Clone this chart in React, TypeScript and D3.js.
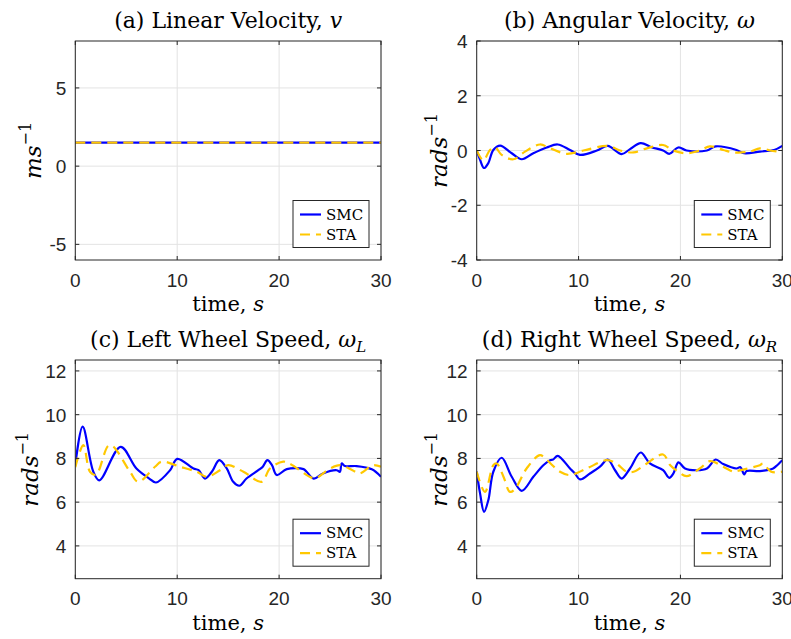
import React from "react";
import * as d3 from "d3";

// ---- Data ----
const tA = [0, 30];
const smcA = [1.5, 1.5];
const staA = [1.5, 1.5];

const tSmcB = [0, 0.33, 0.72, 1.14, 1.63, 2.3, 3.44, 4.42, 5.56, 6.87, 7.95, 9.16, 10.14, 11.8, 12.86, 14.23, 15.05, 16.1, 17.15, 18.3, 18.9, 19.8, 20.6, 22.6, 23.46, 25.5, 26.24, 27.8, 29.2, 30];
const smcB = [0, -0.34, -0.64, -0.46, 0.02, 0.18, -0.1, -0.32, -0.1, 0.11, 0.22, 0.02, -0.16, 0, 0.17, -0.13, 0.05, 0.27, 0.12, 0, -0.12, 0.11, 0, 0, 0.15, 0.02, -0.1, -0.04, 0.02, 0.17];
const tStaB = [0, 0.65, 1.3, 1.8, 2.45, 3.6, 4.74, 6.21, 7.2, 8.83, 10.47, 12.9, 14.07, 15.4, 16.7, 18.3, 19.3, 20.6, 21.9, 22.9, 24.2, 25.2, 26.8, 27.8, 28.8, 30];
const staB = [0, -0.36, 0.02, 0.12, -0.16, -0.32, -0.04, 0.22, 0.08, -0.12, 0, 0.17, 0, -0.07, 0.08, 0.2, 0, -0.1, 0, 0.15, 0.02, -0.07, -0.04, 0.08, 0, -0.06];

const tSmcC = [0, 0.72, 1.77, 2.36, 4.45, 6.0, 7.26, 7.92, 9.3, 10.0, 11.6, 12.1, 12.73, 13.4, 14.13, 14.86, 15.5, 16.1, 16.8, 17.96, 18.4, 18.85, 19.3, 19.77, 20.75, 22.4, 22.7, 23.4, 24.3, 25.65, 25.97, 26.14, 26.47, 27.6, 29.1, 30];
const smcC = [7.69, 9.45, 7.39, 7.0, 8.53, 7.54, 7.08, 6.9, 7.46, 7.98, 7.54, 7.46, 7.08, 7.39, 7.92, 7.54, 6.93, 6.75, 7.08, 7.46, 7.62, 7.92, 7.69, 7.24, 7.51, 7.51, 7.39, 7.08, 7.31, 7.46, 7.39, 7.77, 7.65, 7.65, 7.5, 7.16];
const tStaC = [0, 0.79, 1.44, 2.03, 3.24, 3.7, 5.37, 6.18, 7.82, 8.48, 10.27, 11.9, 12.9, 14.2, 15.0, 16.5, 18.3, 19.1, 20.4, 21.0, 23.0, 23.5, 25.0, 25.98, 27.2, 27.9, 29.2, 30];
const staC = [7.6, 8.61, 7.39, 7.25, 8.58, 8.55, 7.39, 6.93, 7.62, 7.85, 7.62, 7.39, 7.16, 7.46, 7.69, 7.39, 6.93, 7.54, 7.85, 7.77, 7.16, 7.08, 7.54, 7.69, 7.46, 7.31, 7.69, 7.62];

const tSmcD = [0, 0.33, 0.72, 1.14, 1.63, 2.45, 3.44, 4.42, 5.56, 6.54, 7.2, 7.5, 7.95, 9.16, 9.65, 10.14, 11.12, 12.1, 12.86, 13.58, 14.23, 15.05, 16.1, 17.0, 18.3, 18.9, 19.3, 19.8, 20.45, 21.6, 22.6, 23.46, 24.2, 25.5, 25.9, 26.24, 26.5, 27.8, 29.1, 29.4, 30];
const smcD = [7.39, 6.4, 5.56, 6.09, 7.39, 8.03, 7.16, 6.52, 7.16, 7.69, 7.92, 7.95, 8.12, 7.54, 7.31, 7.04, 7.31, 7.62, 7.95, 7.46, 7.08, 7.54, 8.27, 7.77, 7.46, 7.11, 7.3, 7.82, 7.54, 7.46, 7.54, 7.95, 7.74, 7.54, 7.6, 7.27, 7.42, 7.42, 7.54, 7.65, 7.92];
const tStaD = [0, 0.81, 1.63, 1.96, 2.6, 3.27, 3.76, 4.9, 6.21, 6.9, 8.18, 9.16, 10.8, 12.76, 13.7, 14.72, 15.4, 16.7, 18.3, 19.0, 19.8, 20.6, 21.9, 22.9, 24.2, 25.2, 25.5, 27.8, 28.1, 28.9, 30];
const staD = [7.39, 6.47, 7.69, 7.77, 7.2, 6.47, 6.6, 7.54, 8.15, 7.92, 7.39, 7.24, 7.54, 7.92, 7.77, 7.39, 7.39, 7.77, 8.18, 7.69, 7.39, 7.19, 7.54, 7.88, 7.62, 7.39, 7.42, 7.69, 7.77, 7.39, 7.39];

const xTicks = [0, 10, 20, 30];
const yTicksA = [-5, 0, 5];
const yTicksB = [-4, -2, 0, 2, 4];
const yTicksCD = [4, 6, 8, 10, 12];
const legendLabels = ["SMC", "STA"];

const BLUE = "#0000ff";
const YELLOW = "#ffc800";
const AXIS = "#262626";
const GRID = "#e3e3e3";
const SERIF = "'DejaVu Serif', serif";
const SANS = "'Liberation Sans', Arial, sans-serif";

type PanelProps = {
  id: string;
  left: number; right: number; top: number; bottom: number;
  yDomain: [number, number];
  yTicks: number[];
  tSmc: number[]; smc: number[];
  tSta: number[]; sta: number[];
  title: React.ReactNode;
  ylabel: string;
  ylabelX: number;
};

function Panel(p: PanelProps) {
  const x = d3.scaleLinear().domain([0, 30]).range([p.left, p.right]);
  const y = d3.scaleLinear().domain(p.yDomain).range([p.bottom, p.top]);
  const line = d3.line<[number, number]>()
    .x(d => x(d[0])).y(d => y(d[1]))
    .curve(d3.curveCatmullRom.alpha(0.5));
  const smcPts = p.tSmc.map((t, i) => [t, p.smc[i]] as [number, number]);
  const staPts = p.tSta.map((t, i) => [t, p.sta[i]] as [number, number]);
  const cx = (p.left + p.right) / 2;
  const cy = (p.top + p.bottom) / 2;
  const tl = 4;
  const lgR = p.right - 12;
  const lgL = lgR - 76;
  const lgB = p.bottom - 12.5;
  const lgT = lgB - 47;
  return (
    <g>
      <defs>
        <clipPath id={"clip-" + p.id}>
          <rect x={p.left} y={p.top} width={p.right - p.left} height={p.bottom - p.top} />
        </clipPath>
      </defs>
      <rect x={p.left} y={p.top} width={p.right - p.left} height={p.bottom - p.top} fill="#fff" />
      {xTicks.map(t => (
        <line key={"gx" + t} x1={x(t)} x2={x(t)} y1={p.top} y2={p.bottom} stroke={GRID} strokeWidth={1} />
      ))}
      {p.yTicks.map(t => (
        <line key={"gy" + t} x1={p.left} x2={p.right} y1={y(t)} y2={y(t)} stroke={GRID} strokeWidth={1} />
      ))}
      <g clipPath={`url(#clip-${p.id})`}>
        <path d={line(smcPts) || ""} fill="none" stroke={BLUE} strokeWidth={2.2} strokeLinejoin="round" />
        <path d={line(staPts) || ""} fill="none" stroke={YELLOW} strokeWidth={2.2} strokeDasharray="10,6" />
      </g>
      {/* ticks inside */}
      {xTicks.map(t => (
        <g key={"tx" + t}>
          <line x1={x(t)} x2={x(t)} y1={p.bottom} y2={p.bottom - tl} stroke={AXIS} />
          <line x1={x(t)} x2={x(t)} y1={p.top} y2={p.top + tl} stroke={AXIS} />
          <text x={x(t)} y={p.bottom + 26.5} textAnchor="middle" fontFamily={SANS} fontSize={19} fill={AXIS}>{t}</text>
        </g>
      ))}
      {p.yTicks.map(t => (
        <g key={"ty" + t}>
          <line x1={p.left} x2={p.left + tl} y1={y(t)} y2={y(t)} stroke={AXIS} />
          <line x1={p.right} x2={p.right - tl} y1={y(t)} y2={y(t)} stroke={AXIS} />
          <text x={p.left - 9} y={y(t) + 7} textAnchor="end" fontFamily={SANS} fontSize={19} fill={AXIS}>{t}</text>
        </g>
      ))}
      <rect x={p.left} y={p.top} width={p.right - p.left} height={p.bottom - p.top} fill="none" stroke={AXIS} strokeWidth={1} />
      {/* title */}
      <text x={cx} y={p.top - 13} textAnchor="middle" fontFamily={SERIF} fontSize={22} fill="#000">{p.title}</text>
      {/* x label */}
      <text x={cx} y={p.bottom + 51} textAnchor="middle" fontFamily={SERIF} fontSize={21} fill="#000">
        time, <tspan fontStyle="italic">s</tspan>
      </text>
      {/* y label */}
      <text transform={`translate(${p.ylabelX},${cy}) rotate(-90)`} textAnchor="middle" fontFamily={SERIF} fontSize={23} fill="#000">
        <tspan fontStyle="italic">{p.ylabel}</tspan>
        <tspan dy={-10} fontSize={16}>−1</tspan>
      </text>
      {/* legend */}
      <rect x={lgL} y={lgT} width={lgR - lgL} height={lgB - lgT} fill="#fff" stroke={AXIS} strokeWidth={1} />
      <line x1={lgL + 7} x2={lgL + 28} y1={lgT + 14} y2={lgT + 14} stroke={BLUE} strokeWidth={2.2} />
      <line x1={lgL + 7} x2={lgL + 28} y1={lgT + 34} y2={lgT + 34} stroke={YELLOW} strokeWidth={2.2} strokeDasharray="10,6" />
      <text x={lgL + 33} y={lgT + 19} fontFamily={SERIF} fontSize={15} fill="#000">{legendLabels[0]}</text>
      <text x={lgL + 33} y={lgT + 39} fontFamily={SERIF} fontSize={15} fill="#000">{legendLabels[1]}</text>
    </g>
  );
}

export default function App() {
  const L1 = 75.3, R1 = 381, L2 = 476.7, R2 = 782.3;
  const T1 = 41, B1 = 260, T2 = 360, B2 = 578.7;
  return (
    <svg width={791} height={639} style={{ display: "block", position: "absolute", left: 0, top: 0 }} viewBox="0 0 791 639">
      <rect x={0} y={0} width={791} height={639} fill="#fff" />
      <Panel id="a" left={L1} right={R1} top={T1} bottom={B1} yDomain={[-6, 8]} yTicks={yTicksA}
        tSmc={tA} smc={smcA} tSta={tA} sta={staA}
        title={<>(a) Linear Velocity, <tspan fontStyle="italic">v</tspan></>}
        ylabel="ms" ylabelX={41} />
      <Panel id="b" left={L2} right={R2} top={T1} bottom={B1} yDomain={[-4, 4]} yTicks={yTicksB}
        tSmc={tSmcB} smc={smcB} tSta={tStaB} sta={staB}
        title={<>(b) Angular Velocity, <tspan fontStyle="italic">ω</tspan></>}
        ylabel="rads" ylabelX={447} />
      <Panel id="c" left={L1} right={R1} top={T2} bottom={B2} yDomain={[2.5, 12.5]} yTicks={yTicksCD}
        tSmc={tSmcC} smc={smcC} tSta={tStaC} sta={staC}
        title={<>(c) Left Wheel Speed, <tspan fontStyle="italic">ω</tspan><tspan fontStyle="italic" fontSize={15} dy={5}>L</tspan></>}
        ylabel="rads" ylabelX={38} />
      <Panel id="d" left={L2} right={R2} top={T2} bottom={B2} yDomain={[2.5, 12.5]} yTicks={yTicksCD}
        tSmc={tSmcD} smc={smcD} tSta={tStaD} sta={staD}
        title={<>(d) Right Wheel Speed, <tspan fontStyle="italic">ω</tspan><tspan fontStyle="italic" fontSize={15} dy={5}>R</tspan></>}
        ylabel="rads" ylabelX={447} />
    </svg>
  );
}
